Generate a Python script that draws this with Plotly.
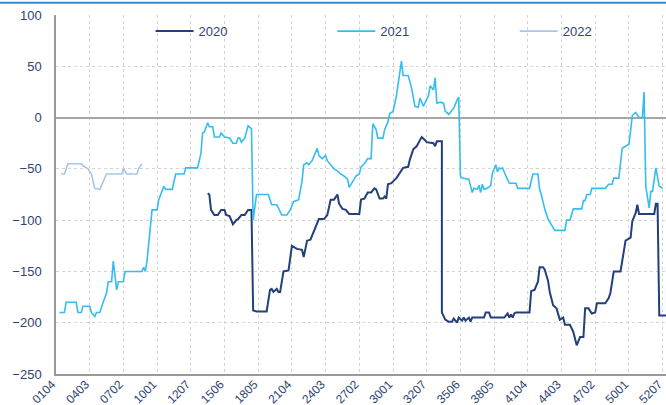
import plotly.graph_objs as go

# x = day of year (0104 -> day 4, one tick every 20 days)
tick_days = [4, 24, 44, 64, 84, 104, 124, 144, 164, 184, 204, 224, 244, 264, 284, 304, 324, 344, 364]
tick_labels = ["0104", "0403", "0702", "1001", "1207", "1506", "1805", "2104", "2403", "2702",
               "3001", "3207", "3506", "3805", "4104", "4403", "4702", "5001", "5207"]

days_2020 = [94, 95, 96, 98, 100, 102, 104, 105, 107, 109, 111, 112, 114, 116, 118, 120, 121, 123, 129,
             131, 132, 133, 135, 136, 137, 139, 142, 144, 147, 150, 151, 153, 155, 156, 158, 160, 163,
             165, 167, 169, 171, 172, 174, 176, 178, 184, 185, 187, 189, 191, 193, 194, 196, 198, 199,
             200, 201, 203, 206, 208, 210, 213, 214, 216, 218, 220, 221, 223, 224, 228, 229, 230, 233,
             233, 235, 237, 239, 240, 242, 243, 245, 246, 247, 249, 250, 251, 258, 259, 261, 262, 270,
             272, 273, 274, 275, 276, 277, 285, 286, 288, 290, 291, 293, 294, 296, 297, 299, 301, 303,
             305, 306, 309, 311, 313, 315, 317, 318, 320, 321, 322, 324, 325, 330, 332, 333, 335, 339,
             341, 342, 344, 345, 346, 348, 349, 350, 359, 360, 361, 362, 366]
vals_2020 = [-74, -75, -90, -95, -95, -90, -90, -95, -96, -104, -100, -99, -95, -95, -90, -90, -188, -189, -189,
             -168, -167, -170, -167, -170, -170, -150, -149, -125, -128, -129, -136, -120, -119, -115, -107, -99, -99,
             -95, -80, -80, -75, -84, -89, -90, -94, -94, -80, -79, -73, -73, -69, -70, -79, -79, -77,
             -79, -65, -64, -59, -54, -49, -48, -41, -31, -28, -22, -19, -22, -24, -25, -28, -23, -23,
             -190, -197, -199, -199, -196, -200, -195, -198, -195, -198, -195, -199, -195, -195, -190, -190, -195, -195,
             -191, -195, -192, -195, -191, -190, -190, -169, -168, -160, -146, -146, -148, -159, -170, -183, -186, -197,
             -195, -202, -202, -209, -222, -214, -214, -186, -186, -188, -191, -190, -181, -181, -176, -171, -150, -150,
             -132, -120, -118, -117, -101, -93, -85, -94, -94, -84, -84, -193, -193]

days_2021 = [6, 9, 10, 16, 17, 19, 20, 24, 25, 27, 28, 30, 32, 34, 35, 37, 38, 39, 40, 41, 44, 45, 55, 56,
             57, 58, 59, 61, 64, 65, 68, 69, 73, 75, 80, 81, 88, 90, 91, 92, 94, 95, 97, 98, 101, 102,
             104, 107, 109, 111, 112, 113, 114, 116, 118, 119, 120, 121, 123, 130, 132, 135, 136, 138,
             141, 143, 145, 148, 150, 151, 153, 154, 156, 159, 160, 162, 164, 165, 167, 169, 171, 173,
             175, 177, 178, 180, 182, 184, 185, 187, 189, 191, 192, 194, 195, 198, 199, 201, 202, 204,
             206, 209, 210, 213, 215, 217, 219, 220, 222, 224, 225, 226, 228, 229, 230, 232, 234, 235,
             236, 237, 239, 240, 242, 243, 244, 245, 249, 250, 251, 252, 254, 255, 256, 257, 258, 260,
             261, 262, 263, 265, 266, 267, 268, 269, 271, 273, 277, 278, 285, 287, 290, 291, 292, 294,
             296, 298, 300, 306, 307, 309, 311, 316, 317, 318, 319, 321, 322, 330, 332, 334, 335, 338,
             339, 340, 342, 344, 345, 346, 348, 349, 350, 352, 353, 354, 356, 357, 358, 360, 362, 364]
vals_2021 = [-190, -190, -180, -180, -190, -190, -184, -184, -190, -194, -190, -190, -180, -171, -160, -160,
             -140, -155, -168, -160, -160, -150, -150, -146, -150, -140, -125, -90, -90, -80, -67, -70, -70,
             -55, -55, -49, -49, -35, -15, -14, -5, -9, -9, -19, -19, -15, -19, -20, -25, -25, -20, -20,
             -24, -20, -8, -10, -11, -100, -75, -75, -85, -85, -88, -95, -95, -90, -82, -80, -62, -46,
             -44, -46, -42, -30, -37, -40, -37, -42, -46, -50, -52, -55, -57, -60, -68, -62, -57, -55,
             -48, -45, -40, -40, -6, -12, -20, -20, -12, -4, 4, 6, 21, 55, 41, 41, 29, 11, 10, 19, 11,
             18, 21, 31, 27, 39, 14, 15, 14, 6, 5, 3, 7, 9, 17, 20, -57, -59, -60, -67, -73, -69, -70,
             -66, -73, -65, -70, -69, -67, -66, -54, -46, -53, -49, -50, -49, -57, -64, -64, -69, -69,
             -55, -55, -70, -75, -89, -99, -104, -110, -110, -100, -100, -89, -89, -81, -81, -75, -75,
             -69, -69, -65, -65, -59, -59, -46, -30, -28, -26, -13, 2, 5, 3, 0, 0, 25, -67, -88, -72,
             -72, -49, -67, -69]

days_2022 = [7, 9, 11, 19, 20, 23, 25, 27, 30, 32, 34, 43, 44, 46, 52, 53, 55]
vals_2022 = [-55, -55, -45, -45, -47, -50, -55, -69, -70, -63, -55, -55, -50, -55, -55, -50, -45]

navy = "#24407a"
text_col = "#2e4374"
legend_font = dict(family="Liberation Sans", size=13, color=text_col)

fig = go.Figure()
fig.add_trace(go.Scatter(x=days_2020, y=vals_2020, mode="lines", name="2020", legend="legend",
                         line=dict(color=navy, width=2)))
fig.add_trace(go.Scatter(x=days_2021, y=vals_2021, mode="lines", name="2021", legend="legend2",
                         line=dict(color="#35bdef", width=1.6)))
fig.add_trace(go.Scatter(x=days_2022, y=vals_2022, mode="lines", name="2022", legend="legend3",
                         line=dict(color="#a8c6e8", width=1.6)))

fig.update_xaxes(range=[4, 366], tickvals=tick_days, ticktext=tick_labels, tickangle=-45,
                 showgrid=True, gridcolor="#d4d4d4", griddash="3px,3px", gridwidth=1,
                 showline=True, linecolor="#9a9a9a", linewidth=1.5, zeroline=False,
                 automargin=False, ticks="", ticklabelstandoff=-3, ticklabelshift=-4,
                 ticklabeloverflow="allow",
                 tickfont=dict(family="Liberation Sans", size=12, color=text_col))
fig.update_yaxes(range=[-250, 100], tickvals=[-250, -200, -150, -100, -50, 0, 50, 100],
                 showgrid=True, gridcolor="#d4d4d4", griddash="3px,3px", gridwidth=1,
                 showline=True, linecolor="#9a9a9a", linewidth=1.5,
                 zeroline=True, zerolinecolor="#a6a6a6", zerolinewidth=2,
                 automargin=False, ticklabelstandoff=10,
                 tickfont=dict(family="Liberation Sans", size=13, color=text_col))

fig.update_layout(
    width=666, height=405,
    margin=dict(l=56, r=0, t=15, b=31),
    paper_bgcolor="white", plot_bgcolor="white",
    showlegend=True,
    legend=dict(x=0.155, y=0.955, xanchor="left", yanchor="middle", itemwidth=38,
                bgcolor="rgba(0,0,0,0)", font=legend_font),
    legend2=dict(x=0.453, y=0.955, xanchor="left", yanchor="middle", itemwidth=38,
                 bgcolor="rgba(0,0,0,0)", font=legend_font),
    legend3=dict(x=0.752, y=0.955, xanchor="left", yanchor="middle", itemwidth=38,
                 bgcolor="rgba(0,0,0,0)", font=legend_font),
    shapes=[dict(type="line", xref="paper", yref="paper", x0=-0.1, x1=1.0, y0=1.034, y1=1.034,
                 line=dict(color="#3a88cc", width=2))],
)

# the page body has a default 8px margin; drop it so the figure fills the window
fig.write_html("out.html", config={"displayModeBar": False},
               post_script="document.body.style.margin='0';")
